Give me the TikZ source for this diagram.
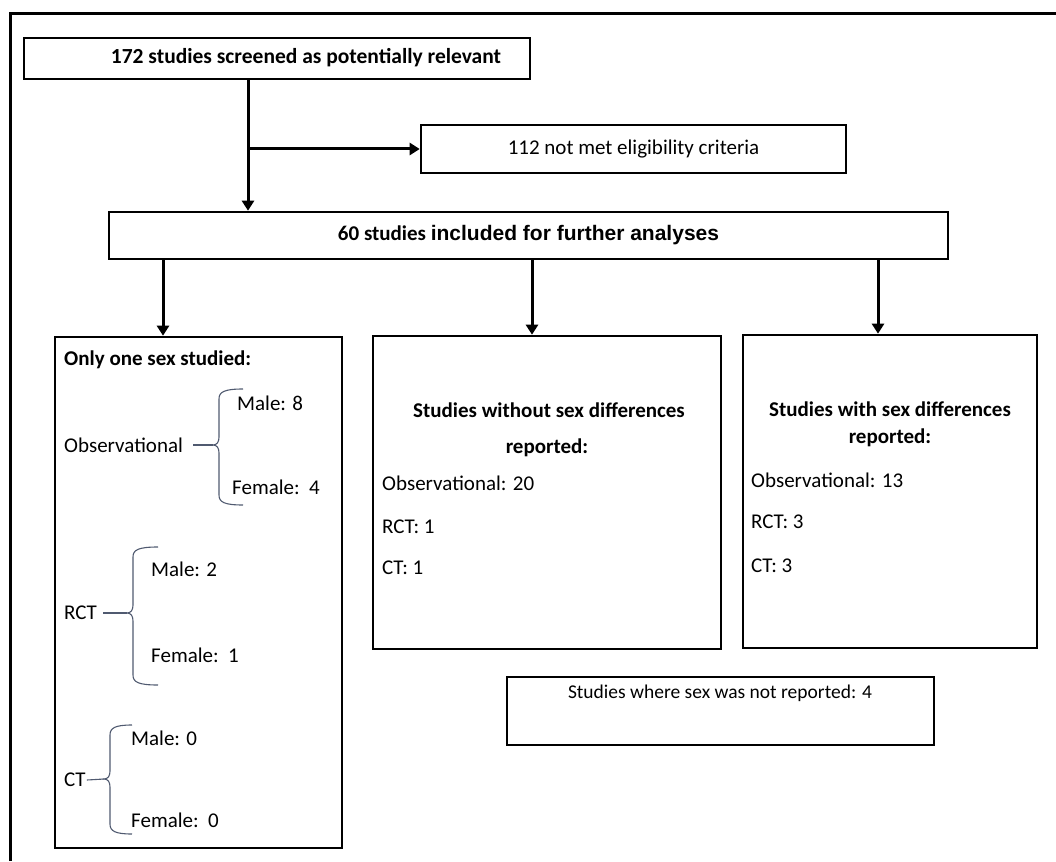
\documentclass[tikz,border=0pt]{standalone}
\usepackage{fontspec}
\setmainfont{Carlito}
\newfontfamily\arialf{Liberation Sans}
\usetikzlibrary{arrows.meta}
\definecolor{brcol}{RGB}{80,90,112}
\newcommand{\mybracepath}[5]{% #1 x, #2 top, #3 mid, #4 bottom, #5 hook length
  \draw[brc] ({#1+#5},#2) .. controls ({#1+5},#2) and (#1,{#2+3}) .. (#1,{#2+10})
    -- (#1,{#3-8}) .. controls (#1,{#3-3}) and ({#1-2},#3) .. ({#1-6},#3)
    .. controls ({#1-2},#3) and (#1,{#3+3}) .. (#1,{#3+8})
    -- (#1,{#4-10}) .. controls (#1,{#4-3}) and ({#1+5},#4) .. ({#1+#5},#4);}
\begin{document}
\begin{tikzpicture}[x=1pt,y=-1pt,
  bx/.style={draw=black, line width=2.6pt, inner sep=0pt},
  arr/.style={line width=3pt, -{Triangle[length=10pt,width=12pt]}},
  txt/.style={font=\fontsize{21}{25}\selectfont, inner sep=0pt, text=black},
  btxt/.style={inner sep=0pt, text=black, font=\fontsize{21}{25}\selectfont\bfseries},
  brc/.style={draw=brcol, line width=1.1pt}]
\useasboundingbox (0,0) rectangle (1056,861);
% outer frame
\draw[line width=3pt] (10,861) -- (10,14) -- (1056,14);
% boxes
\node[bx, minimum width=506pt, minimum height=41pt] (top) at (277,58.5) {};
\node[btxt, font=\fontsize{21.5}{26}\selectfont\bfseries] (toptxt) at (306,58) {172 studies screened as potentially relevant};
\node[bx, txt, minimum width=425pt, minimum height=48pt] (excl) at (633.5,149) {112 not met eligibility criteria};
\node[bx, btxt, minimum width=839pt, minimum height=47pt] (incl) at (528.5,235.5) {60 studies {\arialf\bfseries included for further analyses}};
\node[bx, minimum width=287pt, minimum height=511pt] (one) at (198.5,592.5) {};
\node[bx, minimum width=348pt, minimum height=313pt] (without) at (547,492.5) {};
\node[bx, minimum width=294pt, minimum height=313pt] (with) at (890,491.5) {};
\node[bx, minimum width=427pt, minimum height=68pt] (nrep) at (720.5,711) {};
\node[txt, font=\fontsize{19.5}{23}\selectfont] (nreptxt) at (720,693) {Studies where sex was not reported: 4};
% connectors
\coordinate (j) at (248,149);
\draw[line width=3pt] (top.south -| j) -- (j);
\draw[arr] (j) -- (incl.north -| j);
\draw[arr] (j) -- (excl.west);
\coordinate (c1) at (163,0);
\coordinate (c2) at (532,0);
\coordinate (c3) at (878,0);
\draw[arr] (incl.south -| c1) -- (one.north -| c1);
\draw[arr] (incl.south -| c2) -- (without.north -| c2);
\draw[arr] (incl.south -| c3) -- (with.north -| c3);
% left box
\node[btxt, anchor=west] (onet) at (64,360) {Only one sex studied:};
\node[txt, anchor=west] (m1) at (237,403) {Male: 8};
\node[txt, anchor=west] (obs) at (64,445) {Observational};
\node[txt, anchor=west] (f1) at (232,487) {Female:\ \ 4};
\node[txt, anchor=west] (m2) at (151,569) {Male: 2};
\node[txt, anchor=west] (rct) at (64,613) {RCT};
\node[txt, anchor=west] (f2) at (151,655) {Female:\ \ 1};
\node[txt, anchor=west] (m3) at (131,738) {Male: 0};
\node[txt, anchor=west] (ct) at (64,780) {CT};
\node[txt, anchor=west] (f3) at (131,820) {Female:\ \ 0};
\mybracepath{219}{389}{445}{505}{24}
\mybracepath{133}{547}{613}{685}{25}
\mybracepath{110}{725}{779}{834}{22}
\coordinate (k1) at (213,445);
\coordinate (k2) at (127,613);
\coordinate (k3) at (104,779);
\draw[brc] ([xshift=10pt]obs.east) -- (k1);
\draw[brc] ([xshift=6pt]rct.east) -- (k2);
\draw[brc] ([xshift=1pt]ct.east) -- (k3);
% middle box
\node[btxt] (wot1) at (549,410) {Studies without sex differences};
\node[btxt] (wot2) at (547,448) {reported:};
\node[txt, anchor=west] (wo1) at (382,483) {Observational: 20};
\node[txt, anchor=west] (wo2) at (382,527) {RCT: 1};
\node[txt, anchor=west] (wo3) at (382,568) {CT: 1};
% right box
\node[btxt] (wt1) at (890,409) {Studies with sex differences};
\node[btxt] (wt2) at (890,438) {reported:};
\node[txt, anchor=west] (w1) at (751,480) {Observational: 13};
\node[txt, anchor=west] (w2) at (751,522) {RCT: 3};
\node[txt, anchor=west] (w3) at (751,566) {CT: 3};
\end{tikzpicture}
\end{document}
